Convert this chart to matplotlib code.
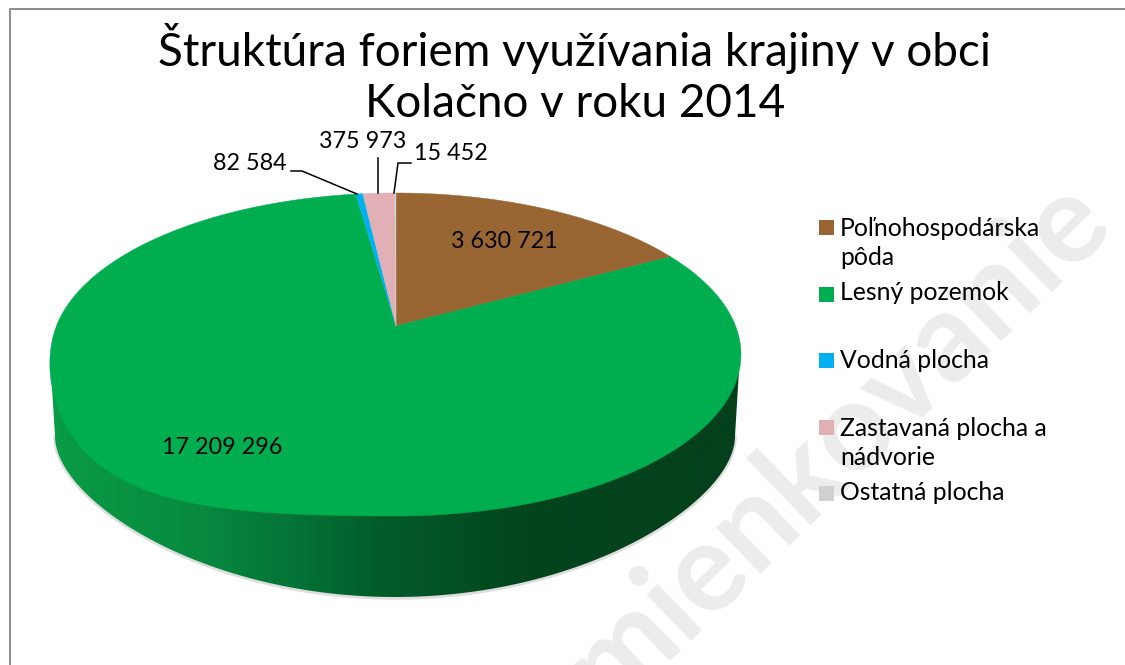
import matplotlib
matplotlib.use('Agg')
import matplotlib.pyplot as plt
import numpy as np
from matplotlib.colors import LinearSegmentedColormap
from matplotlib.patches import Polygon, Rectangle

plt.rcParams['font.family'] = ['Lato', 'DejaVu Sans']

title = 'Štruktúra foriem využívania krajiny v obci\nKolačno v roku 2014'
categories = ['Poľnohospodárska\npôda', 'Lesný pozemok', 'Vodná plocha',
              'Zastavaná plocha a\nnádvorie', 'Ostatná plocha']
values = [3630721, 17209296, 82584, 375973, 15452]
labels = ['3 630 721', '17 209 296', '82 584', '375 973', '15 452']
colors = ['#996633', '#00ae50', '#00b0f0', '#e0b0b4', '#d0d0d0']

# view of the disc, image pixels
cx, cy = 396, 326
a, b, k = 339.6, 156.5, 0.1765


def project(theta):
    # theta runs clockwise from the top of the disc
    x, y = np.sin(theta), np.cos(theta)
    w = 1 + k * y
    # the picture's disc bulges a bit at lower left
    s = np.where((theta > np.pi) & (theta < 1.5 * np.pi), np.sin(2 * (theta - np.pi)) ** 2, 0)
    return cx + a * x / w - 8 * s, cy - b * y / w + 22 * s


fig = plt.figure(figsize=(11.25, 6.65), dpi=100)
ax = fig.add_axes([0, 0, 1, 1])
ax.set_xlim(0, 1125)
ax.set_ylim(665, 0)
ax.axis('off')

# watermark
ax.text(1115, 225, 'mienkovanie', rotation=44, color='#ececec', fontsize=89,
        ha='right', va='baseline', rotation_mode='anchor', zorder=1, weight='bold')

# frame
ax.plot([9.5, 9.5, 1125], [665, 8.5, 8.5], color='#8c8c8c', lw=1.4, zorder=2)

# side of the disc
phi = np.linspace(np.pi, 0, 300)
e = np.sin(phi)
rim_x = 395 + 340 * np.cos(phi)
rim_y = 436 + 161 * (0.75 * e + 0.25 * e ** 2)
side = np.r_[[[50, 354]], np.c_[rim_x, rim_y], [[740, 354]]]
ax.plot(rim_x, rim_y + 1, color='#909090', alpha=0.3, lw=2.5, zorder=2)
side_patch = Polygon(side, closed=True, facecolor='none', edgecolor='none', zorder=3)
ax.add_patch(side_patch)
side_cmap = LinearSegmentedColormap.from_list(
    'side', [(0, '#0a9c46'), (0.22, '#07893f'), (0.36, '#047236'),
             (0.49, '#015a29'), (0.69, '#03451e'), (1, '#03401b')])
img = ax.imshow(np.linspace(0, 1, 256)[None, :], cmap=side_cmap, aspect='auto',
                extent=(50, 741, 665, 0), zorder=3)
img.set_clip_path(side_patch)
ax.set_xlim(0, 1125)
ax.set_ylim(665, 0)

# top of the disc
edges = np.r_[0, np.cumsum(values)] / np.sum(values) * 2 * np.pi
for i, color in enumerate(colors):
    t = np.linspace(edges[i], edges[i + 1], 240)
    px, py = project(t)
    ax.add_patch(Polygon(np.c_[np.r_[cx, px], np.r_[cy, py]], closed=True,
                         facecolor=color, edgecolor=color, lw=0.3, zorder=4))

ax.text(575, 74, title, ha='center', va='center', fontsize=33, color='black',
        linespacing=1.25, zorder=6)

# data labels
ax.text(504, 241, labels[0], ha='center', va='center', fontsize=16.8, zorder=6)
ax.text(222, 448, labels[1], ha='center', va='center', fontsize=16.8, zorder=6)
ax.text(250, 163, labels[2], ha='center', va='center', fontsize=16.8, zorder=6)
ax.text(363, 142, labels[3], ha='center', va='center', fontsize=16.8, zorder=6)
ax.text(451, 154, labels[4], ha='center', va='center', fontsize=16.8, zorder=6)
ax.plot([291, 302, 357], [171, 171, 194], color='black', lw=1.1, zorder=6)
ax.plot([378, 378], [158, 193], color='black', lw=1.1, zorder=6)
ax.plot([394, 398, 411], [193, 163, 163], color='black', lw=1.1, zorder=6)

# legend
swatch_y = [227, 294, 360, 427, 493]
text_y = [243, 293, 361, 443, 493]
for name, color, sy, ty in zip(categories, colors, swatch_y, text_y):
    ax.add_patch(Rectangle((819, sy - 7), 15, 15, facecolor=color, edgecolor='none', zorder=5))
    ax.text(840, ty, name, ha='left', va='center', fontsize=17.8, linespacing=1.3, zorder=6)

fig.savefig('out.png', dpi=100)
